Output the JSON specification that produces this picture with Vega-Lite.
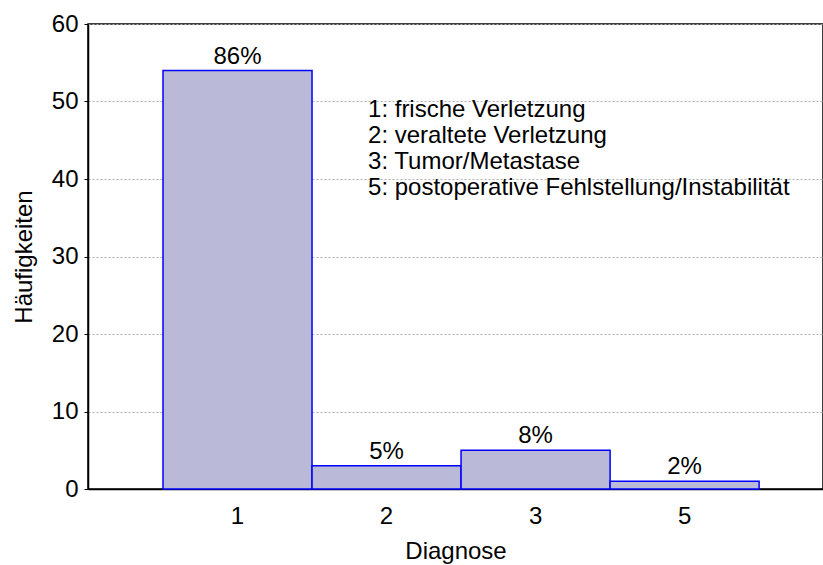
{
  "$schema": "https://vega.github.io/schema/vega-lite/v6.json",
  "width": 735,
  "height": 465,
  "autosize": {"type": "none"},
  "padding": {"left": 88, "top": 24, "right": 0, "bottom": 76},
  "background": "white",
  "config": {
    "font": "Liberation Sans",
    "view": {"stroke": "black", "strokeWidth": 1.5},
    "axis": {"labelFont": "Liberation Sans", "titleFont": "Liberation Sans", "labelColor": "black", "titleColor": "black", "titleFontWeight": "normal", "domainColor": "black", "tickColor": "black"}
  },
  "layer": [
    {
      "data": {
        "values": [
          {"Diagnose": "1", "count": 54, "pct": "86%"},
          {"Diagnose": "2", "count": 3, "pct": "5%"},
          {"Diagnose": "3", "count": 5, "pct": "8%"},
          {"Diagnose": "5", "count": 1, "pct": "2%"}
        ]
      },
      "encoding": {
        "x": {
          "field": "Diagnose", "type": "nominal",
          "scale": {"paddingInner": 0, "paddingOuter": 0.466, "align": 0.54},
          "axis": {"labelAngle": 0, "labelFontSize": 24, "titleFontSize": 24, "title": "Diagnose", "tickSize": -4, "labelPadding": 19, "titlePadding": 11, "domainWidth": 1.5, "grid": false}
        },
        "y": {
          "field": "count", "type": "quantitative",
          "scale": {"domain": [0, 60], "nice": false},
          "axis": {"values": [0, 10, 20, 30, 40, 50, 60], "title": "Häufigkeiten", "labelFontSize": 24, "titleFontSize": 24, "tickSize": 4, "labelPadding": 6, "titlePadding": 15, "domainWidth": 1.5, "grid": true, "gridColor": "#b0b0b0", "gridDash": [2, 2], "gridWidth": 1}
        }
      },
      "layer": [
        {"mark": {"type": "bar", "fill": "#babad8", "stroke": "#0000ff", "strokeWidth": 1.5, "width": {"band": 1}}},
        {
          "mark": {"type": "text", "baseline": "bottom", "align": "center", "dy": -2, "fontSize": 24, "font": "Liberation Sans", "color": "black"},
          "encoding": {"text": {"field": "pct"}}
        }
      ]
    },
    {
      "data": {"values": [{}]},
      "mark": {"type": "text", "align": "left", "baseline": "top", "fontSize": 24, "lineHeight": 26, "dx": 56, "dy": -4, "font": "Liberation Sans", "color": "black"},
      "encoding": {
        "x": {"datum": "2", "bandPosition": 0},
        "y": {"datum": 50},
        "text": {"value": ["1: frische Verletzung", "2: veraltete Verletzung", "3: Tumor/Metastase", "5: postoperative Fehlstellung/Instabilität"]}
      }
    }
  ]
}
